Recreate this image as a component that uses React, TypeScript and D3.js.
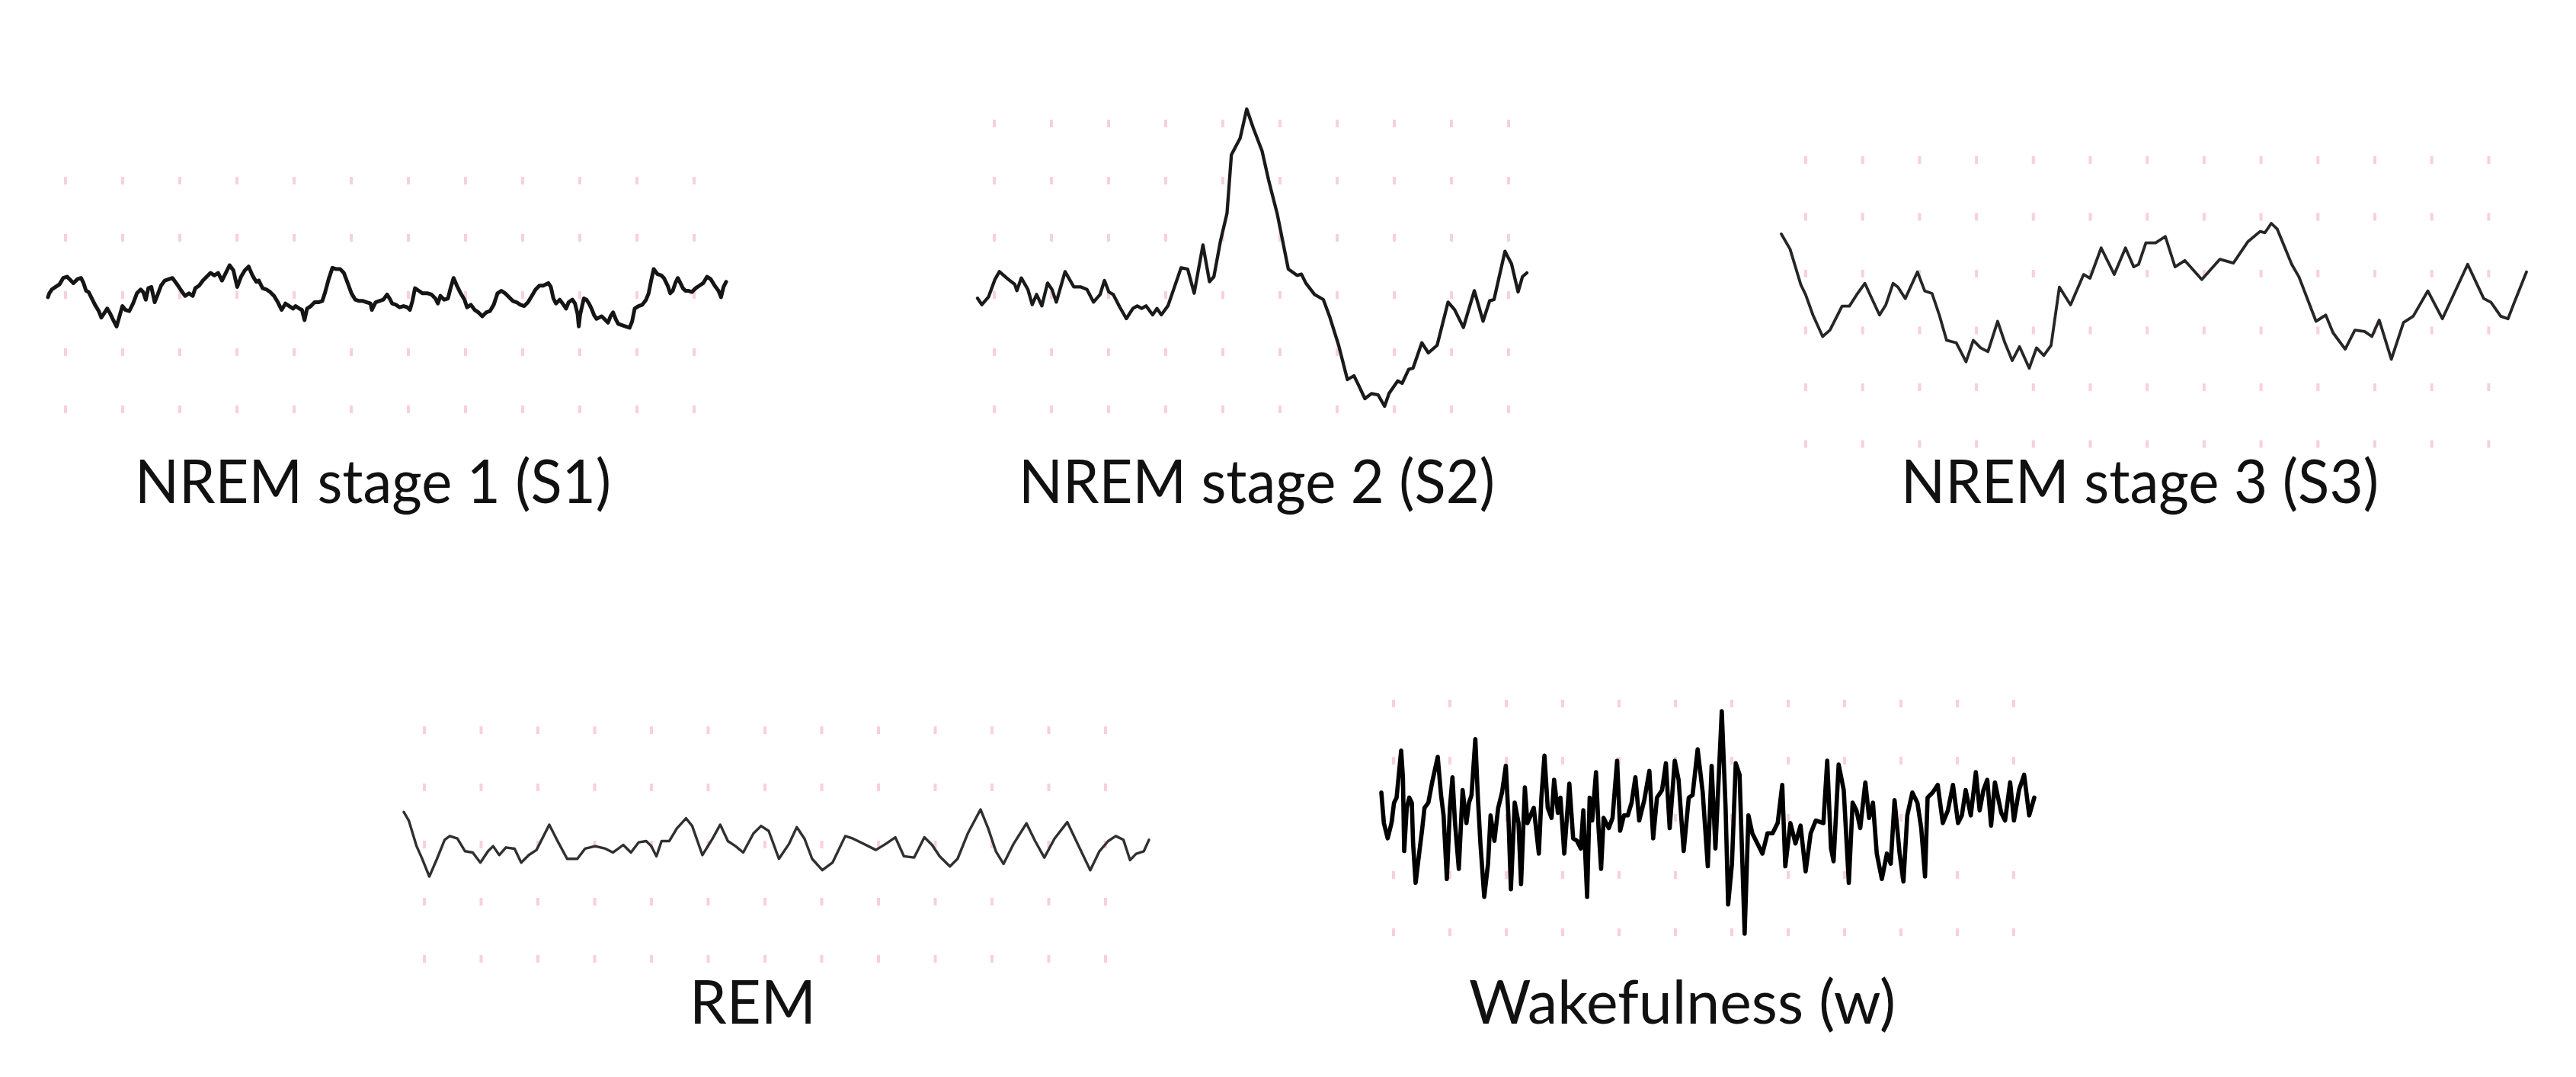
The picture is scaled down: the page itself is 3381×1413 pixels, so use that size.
import React from 'react';
import * as d3 from 'd3';

type Pt = [number, number];

// Traces: [time, amplitude] in trace units (EEG convention, positive = down)
const S1_TRACE: Pt[] = [
  [25,165],[30,150],[40,135],[55,125],[70,115],[85,90],[100,85],[115,100],[125,110],[140,95],[155,90],[165,110],[175,140],[185,145],[195,165],[210,195],[225,220],[235,245],[245,230],[258,210],[270,230],[282,255],[295,280],[305,245],[318,200],[330,215],[345,220],[360,190],[375,150],[390,135],[400,145],[410,175],[420,130],[432,125],[445,185],[455,160],[470,120],[485,100],[500,95],[515,90],[530,110],[550,140],[565,160],[580,150],[595,160],[605,130],[620,120],[635,100],[650,85],[665,70],[680,80],[695,70],[710,100],[725,70],[740,40],[755,60],[770,125],[785,85],[800,60],[815,45],[830,80],[845,105],[855,100],[870,130],[885,135],[900,145],[915,160],[930,185],[945,215],[960,190],[975,200],[990,210],[1000,200],[1015,210],[1025,215],[1035,255],[1045,210],[1060,200],[1075,185],[1090,185],[1105,180],[1115,150],[1130,95],[1145,50],[1160,55],[1175,55],[1190,70],[1205,110],[1220,150],[1235,175],[1250,180],[1265,180],[1280,185],[1295,190],[1300,215],[1315,185],[1330,180],[1345,175],[1360,155],
  [1370,170],[1380,190],[1395,195],[1410,205],[1425,200],[1440,205],[1450,215],[1460,180],[1470,130],[1485,140],[1500,150],[1520,150],[1535,155],[1550,170],[1560,190],[1570,160],[1585,175],[1600,170],[1610,130],[1622,90],[1635,120],[1650,150],[1665,175],[1675,205],[1690,195],[1705,215],[1720,225],[1735,240],[1750,225],[1765,220],[1780,195],[1795,150],[1810,140],[1825,150],[1840,165],[1855,180],[1870,185],[1885,195],[1900,200],[1915,185],[1930,160],[1945,135],[1960,120],[1975,120],[1995,110],[2005,125],[2015,170],[2025,190],[2040,175],[2055,195],[2065,210],[2075,185],[2090,175],[2100,190],[2110,230],[2115,280],[2120,235],[2135,170],[2145,175],[2155,190],[2165,210],[2175,235],[2185,250],[2195,245],[2205,240],[2215,250],[2230,265],[2240,240],[2250,225],[2260,250],[2270,270],[2285,275],[2300,280],[2315,285],[2325,260],[2335,210],[2350,200],[2365,195],[2380,175],[2390,150],[2400,100],[2410,55],[2425,75],[2440,80],[2450,90],[2465,120],[2475,150],[2485,140],[2495,110],[2505,90],[2515,110],[2525,130],[2535,140],[2545,140],[2560,145],[2575,130],[2590,120],[2605,110],[2620,85],[2635,95],[2650,120],[2665,140],[2675,165],[2685,125],[2695,105]
];

const S2_TRACE: Pt[] = [
  [145,875],[155,900],[170,870],[185,800],[195,770],[215,800],[230,820],[235,845],[245,795],[260,840],[270,900],[280,860],[292,905],[305,815],[315,840],[325,890],[345,770],[365,830],[380,830],[395,840],[410,890],[425,860],[435,805],[445,850],[455,860],[470,910],[485,955],[500,915],[510,905],[520,915],[530,905],[545,940],[555,915],[565,940],[580,905],[610,755],[625,760],[640,855],[660,665],[675,810],[685,790],[700,650],[715,540],[725,310],[745,245],[760,130],[775,205],[795,295],[810,410],[830,545],[855,760],[875,785],[885,780],[895,815],[915,860],[935,880],[950,950],[970,1060],[990,1195],[1005,1180],[1015,1215],[1030,1270],[1045,1250],[1060,1255],[1075,1300],[1085,1250],[1105,1200],[1115,1210],[1130,1155],[1140,1150],[1160,1050],[1175,1090],[1195,1060],[1220,890],[1235,920],[1255,990],[1280,845],[1300,965],[1315,885],[1325,880],[1350,690],[1365,740],[1380,850],[1390,790],[1400,775]
];

const S3_TRACE: Pt[] = [
  [60,320],[78,380],[100,520],[110,560],[125,640],[145,725],[160,700],[185,605],[200,605],[215,560],[232,515],[245,570],[262,640],[275,600],[290,515],[300,530],[315,575],[340,470],[355,545],[370,555],[385,640],[400,740],[420,750],[440,825],[455,740],[470,770],[485,785],[505,665],[520,750],[535,820],[550,765],[570,850],[585,770],[600,800],[615,760],[632,530],[655,600],[682,480],[695,495],[718,375],[745,480],[768,375],[785,450],[795,440],[810,355],[830,355],[850,330],[870,450],[890,425],[925,500],[962,420],[990,435],[1020,350],[1045,310],[1055,315],[1068,278],[1080,300],[1110,440],[1125,490],[1160,665],[1180,640],[1195,710],[1220,775],[1240,700],[1260,705],[1275,725],[1290,660],[1315,815],[1340,670],[1360,645],[1390,545],[1420,655],[1472,440],[1505,575],[1520,590],[1540,645],[1555,655],[1568,590],[1593,470]
];

const REM_TRACE: Pt[] = [
  [45,345],[55,380],[70,480],[80,525],[95,600],[110,530],[125,455],[135,440],[150,450],[165,500],[180,505],[195,545],[210,500],[220,480],[232,515],[245,485],[262,490],[275,545],[290,515],[305,495],[330,395],[345,455],[365,530],[385,530],[400,490],[420,480],[440,490],[455,505],[475,475],[490,505],[505,465],[520,460],[530,480],[540,520],[550,460],[565,460],[580,410],[598,370],[610,400],[630,515],[650,450],[665,395],[680,460],[695,480],[710,505],[730,430],[745,400],[760,420],[780,530],[800,470],[815,405],[830,450],[845,530],[865,575],[885,545],[910,440],[925,450],[945,470],[970,495],[990,470],[1008,445],[1025,520],[1045,525],[1065,445],[1080,475],[1095,520],[1115,560],[1130,530],[1150,430],[1175,335],[1190,410],[1205,500],[1220,550],[1240,470],[1265,390],[1282,460],[1300,525],[1320,450],[1345,385],[1365,470],[1390,575],[1408,500],[1425,460],[1440,440],[1455,455],[1468,535],[1480,510],[1495,500],[1505,455]
];

const W_TRACE: Pt[] = [
  [40,360],[50,480],[65,540],[80,480],[90,400],[100,380],[118,195],[125,300],[130,590],[140,420],[150,380],[160,400],[165,560],[175,715],[190,590],[200,510],[210,420],[225,400],[240,320],[262,220],[275,370],[285,450],[298,700],[310,420],[320,300],[330,480],[345,660],[360,350],[375,480],[385,400],[395,370],[410,150],[420,380],[430,560],[445,770],[460,640],[470,450],[485,550],[500,420],[515,360],[530,255],[540,450],[550,740],[565,400],[580,480],[590,720],[605,340],[615,480],[640,420],[660,600],[670,380],[682,215],[695,420],[710,460],[720,310],[735,440],[745,380],[760,600],[780,325],[795,540],[810,550],[825,580],[835,430],[850,770],[860,380],[870,470],[885,280],[895,500],[905,660],[915,460],[935,500],[950,460],[968,235],[980,510],[995,450],[1010,450],[1025,400],[1040,300],[1055,470],[1075,390],[1095,275],[1110,540],[1125,380],[1145,350],[1160,245],[1175,500],[1195,235],[1210,310],[1230,590],[1250,380],[1265,370],[1285,190],[1305,360],[1325,650],[1340,255],
  [1355,580],[1380,40],[1395,420],[1405,800],[1420,640],[1435,245],[1450,290],[1470,915],[1485,450],[1500,520],[1520,560],[1540,600],[1560,520],[1580,520],[1600,480],[1618,330],[1630,650],[1650,480],[1670,560],[1690,490],[1710,670],[1730,520],[1750,470],[1780,480],[1795,235],[1810,580],[1820,630],[1840,250],[1860,350],[1880,715],[1895,400],[1910,430],[1925,500],[1945,320],[1960,460],[1975,400],[1990,600],[2010,700],[2030,600],[2045,640],[2060,390],[2080,600],[2095,710],[2110,450],[2130,360],[2150,400],[2165,500],[2180,690],[2190,380],[2210,360],[2230,330],[2250,480],[2270,430],[2290,330],[2310,480],[2325,450],[2340,350],[2360,450],[2380,280],[2395,430],[2410,350],[2425,310],[2440,490],[2455,320],[2480,440],[2495,470],[2515,320],[2530,470],[2550,350],[2570,290],[2590,450],[2610,380]
];

const STAGE_LABELS = [
  'NREM stage 1 (S1)',
  'NREM stage 2 (S2)',
  'NREM stage 3 (S3)',
  'REM',
  'Wakefulness (w)',
];

const TRACES = [S1_TRACE, S2_TRACE, S3_TRACE, REM_TRACE, W_TRACE];

// Layout (pixel boxes), kept separate from the data
const LAYOUT = [
  { box: [63, 953, 348, 430], stroke: '#151515', sw: 5, grid: { x0: 86, nx: 12, dx: 75, y0: 237, ny: 5, dy: 75 }, lab: { x: 177, w: 625, y: 660 } },
  { box: [1283, 2004, 143, 533], stroke: '#1a1a1a', sw: 4.3, grid: { x0: 1305, nx: 10, dx: 75, y0: 162, ny: 6, dy: 75 }, lab: { x: 1337, w: 625, y: 660 } },
  { box: [2338, 3316, 293, 483], stroke: '#262626', sw: 3.8, grid: { x0: 2370, nx: 13, dx: 74.7, y0: 210, ny: 6, dy: 74.5 }, lab: { x: 2495, w: 627, y: 660 } },
  { box: [530, 1508, 1062, 1150], stroke: '#303030', sw: 3.4, grid: { x0: 557, nx: 13, dx: 74.5, y0: 958, ny: 5, dy: 75 }, lab: { x: 905, w: 166, y: 1343 } },
  { box: [1813, 2670, 933, 1225], stroke: '#000000', sw: 5.6, grid: { x0: 1829, nx: 12, dx: 74, y0: 923, ny: 5, dy: 75 }, lab: { x: 1928, w: 560, y: 1343 } },
];

export default function App() {
  const W = 3381, H = 1413;
  return (
    <svg width={W} height={H} viewBox={`0 0 ${W} ${H}`}
      style={{ position: 'absolute', left: 0, top: 0, display: 'block', background: '#fff' }}>
      <rect x={0} y={0} width={W} height={H} fill="#ffffff" />
      {TRACES.map((data, i) => {
        const L = LAYOUT[i];
        const [x0, x1, y0, y1] = L.box;
        const x = d3.scaleLinear().domain(d3.extent(data, d => d[0]) as [number, number]).range([x0, x1]);
        const y = d3.scaleLinear().domain(d3.extent(data, d => d[1]) as [number, number]).range([y0, y1]);
        const line = d3.line<Pt>().x(d => x(d[0])).y(d => y(d[1]));
        const g = L.grid;
        const cols = d3.range(g.nx).map(k => g.x0 + k * g.dx);
        const rows = d3.range(g.ny).map(k => g.y0 + k * g.dy);
        return (
          <g key={i}>
            <g fill="#f3a3b8" opacity={0.5}>
              {rows.map(ry => cols.map(cx => (
                <rect key={`${ry}-${cx}`} x={cx - 2} y={ry - 5} width={4} height={10} />
              )))}
            </g>
            <path d={line(data) || ''} fill="none" stroke={L.stroke} strokeWidth={L.sw}
              strokeLinejoin="round" strokeLinecap="round" />
            <text x={L.lab.x} y={L.lab.y} textLength={L.lab.w} lengthAdjust="spacingAndGlyphs"
              fontFamily="Lato, 'Open Sans', sans-serif" fontSize={80} fill="#111">
              {STAGE_LABELS[i]}
            </text>
          </g>
        );
      })}
    </svg>
  );
}
